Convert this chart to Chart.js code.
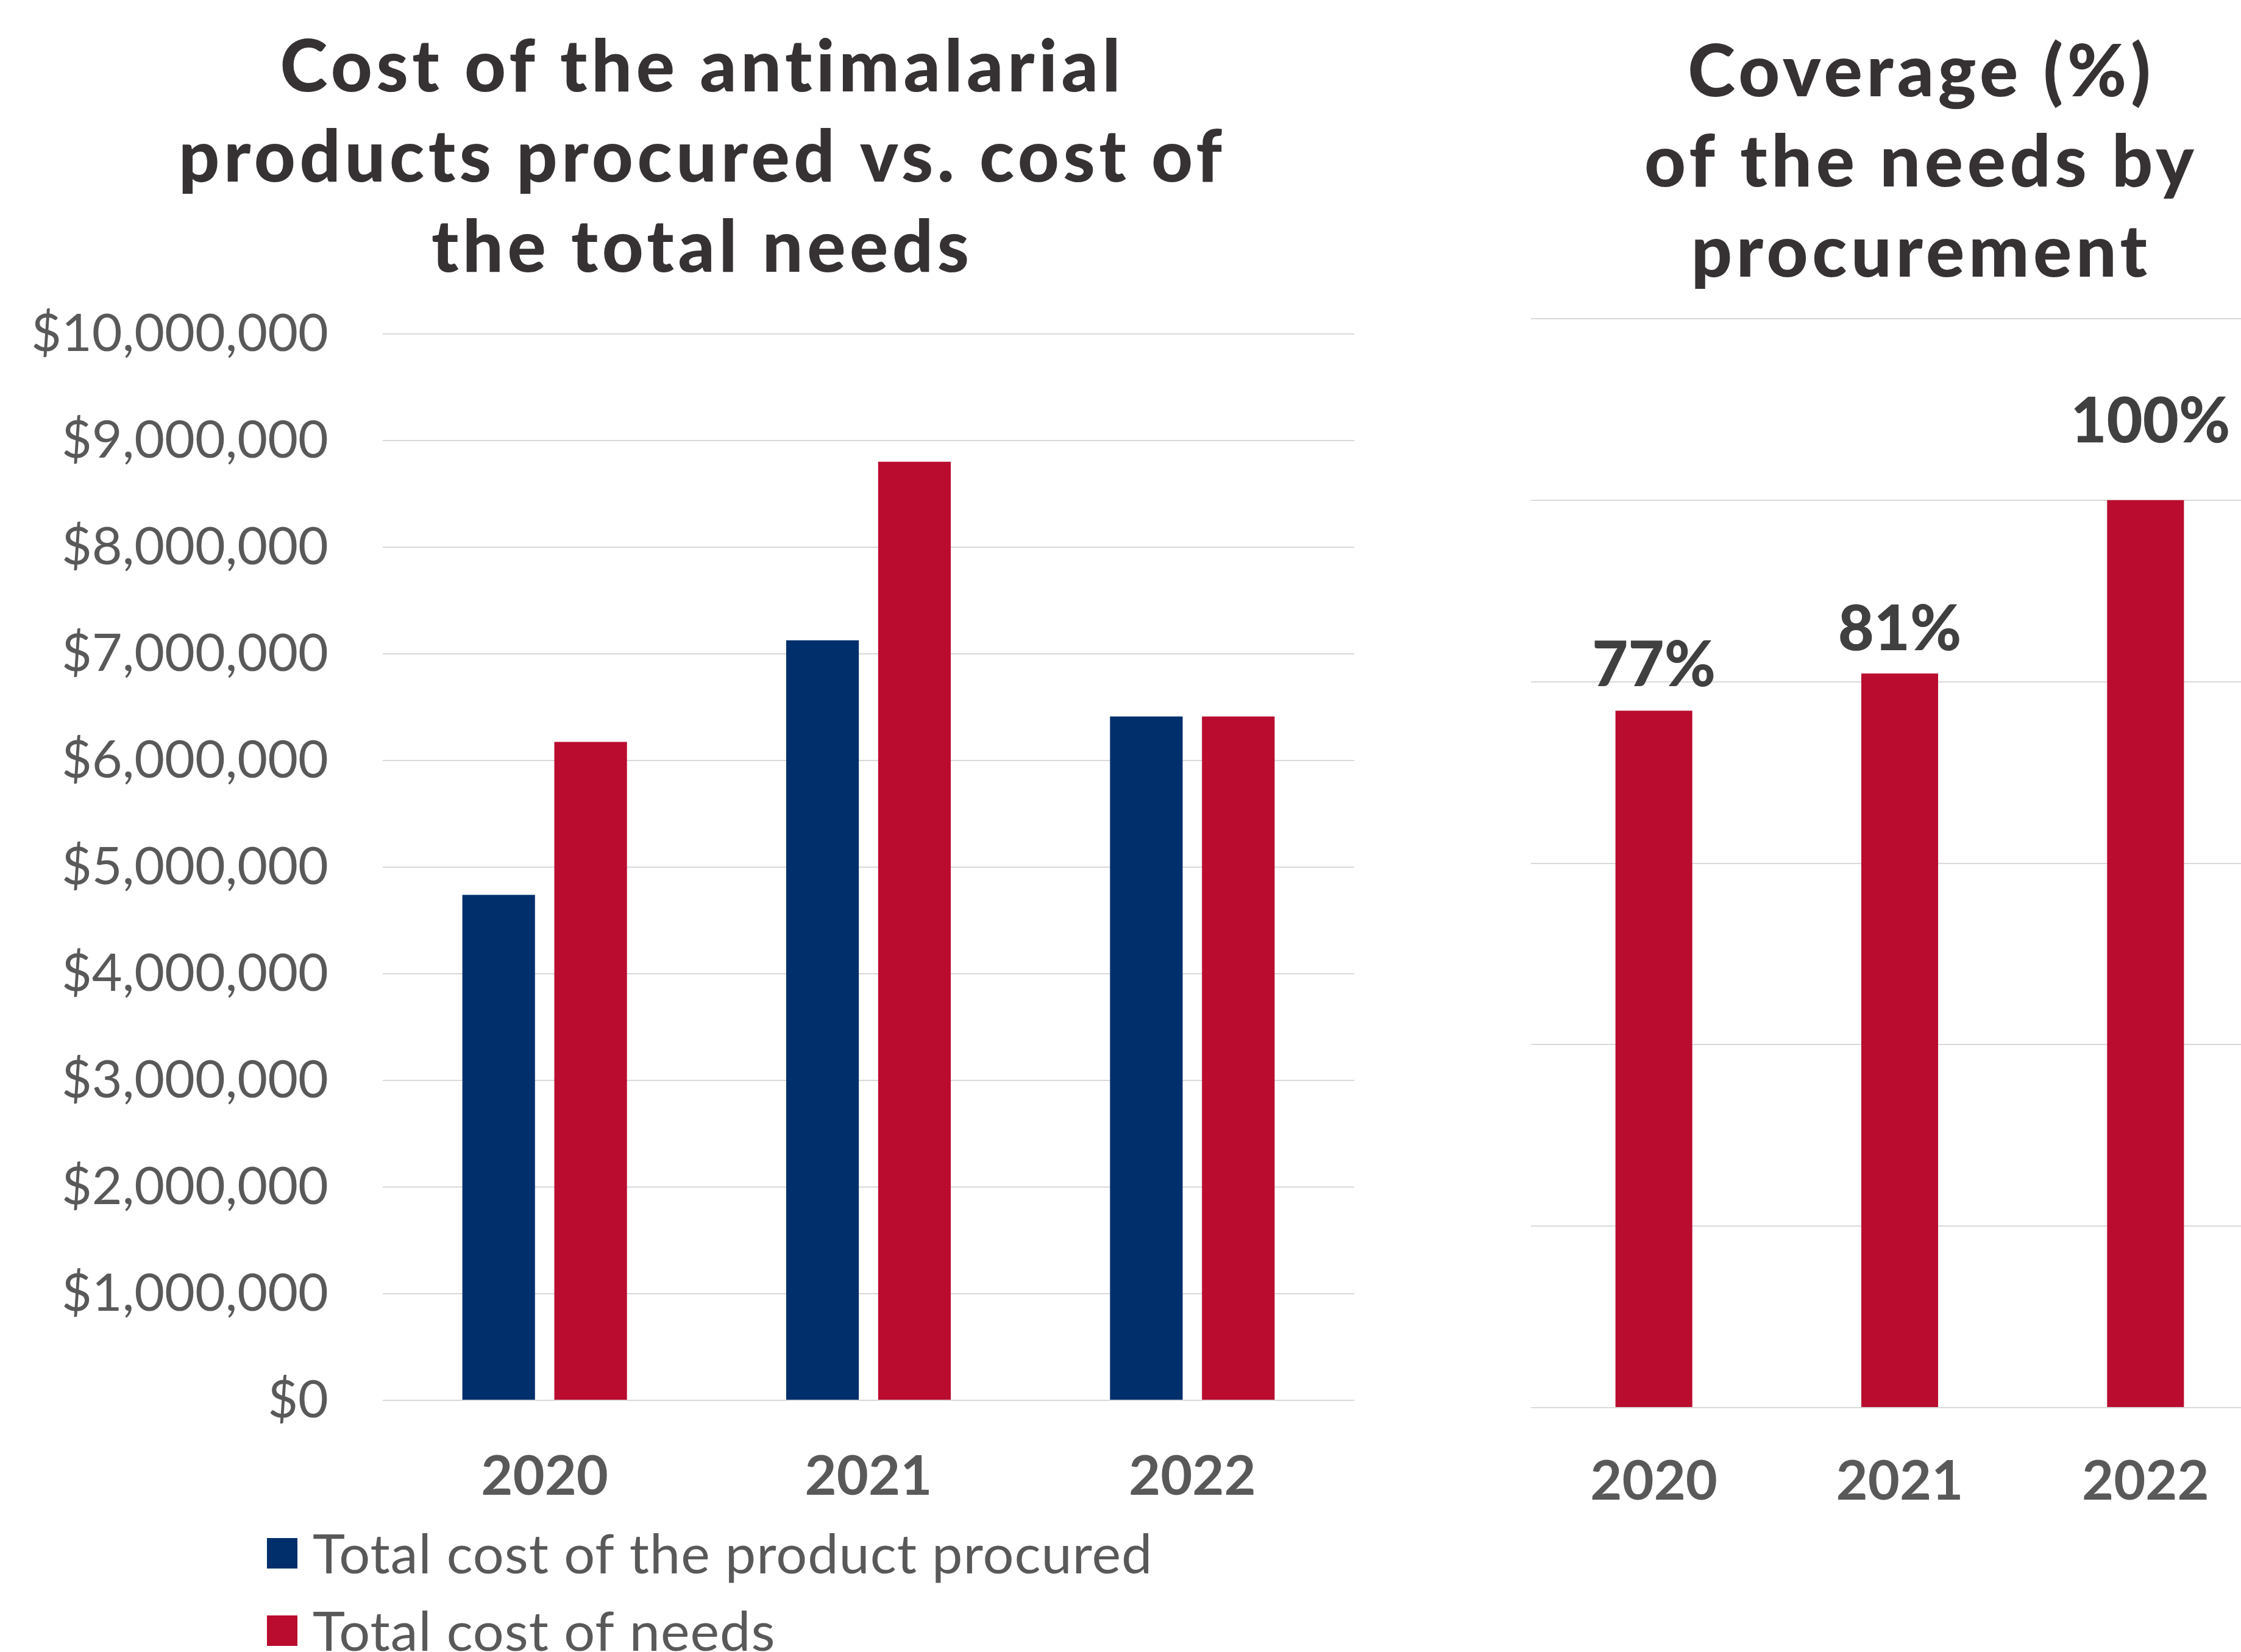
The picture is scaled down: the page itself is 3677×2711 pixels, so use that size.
<!DOCTYPE html>
<html>
    <head>
        <title>Antimalarial procurement</title>
        <script src="https://cdn.jsdelivr.net/npm/chart.js"></script>
        <style>
            html, body {
                margin: 0;
                padding: 0;
                width: 3677px;
                height: 2711px;
                overflow: hidden;
                background: #fff;
            }
            #costChart {
                position: absolute;
                left: 0;
                top: 0;
            }
            #coverageChart {
                position: absolute;
                left: 2400px;
                top: 0;
            }
        </style>
    </head>
    <body>
        <canvas id="costChart" width="2300" height="2711"></canvas>
        <canvas id="coverageChart" width="1498" height="2711"></canvas>

        <script>
            const years = ['2020', '2021', '2022'];
            const procuredCost = [4740000, 7127000, 6413000];
            const needsCost = [6174000, 8801000, 6413000];
            const coveragePct = [76.8, 80.9, 100];
            const costTicks = [0, 10000000, 1000000]; // min, max, step
            const coverageTicks = [0, 120, 20];

            const NAVY = '#002f6c';
            const RED = '#ba0c2f';
            const GRID = '#d9d9d9';
            const AXIS_TEXT = '#595959';
            const TITLE_TEXT = '#363233';
            const FONT = 'Lato';

            Chart.defaults.font.family = FONT;
            Chart.defaults.animation = false;

            // titles with a bit of tracking, closer to the original Gill Sans
            const spacedTitle = {
                id: 'spacedTitle',
                afterDraw(chart, args, opts) {
                    const ctx = chart.ctx;
                    ctx.save();
                    ctx.font = '900 118px ' + FONT;
                    ctx.fillStyle = TITLE_TEXT;
                    ctx.textAlign = 'left';
                    ctx.textBaseline = 'alphabetic';
                    ctx.letterSpacing = opts.spacing + 'px';
                    opts.lines.forEach((line, i) => {
                        const w = ctx.measureText(line).width - opts.spacing;
                        ctx.fillText(line, opts.cx - w / 2, opts.top + i * 148);
                    });
                    ctx.restore();
                }
            };

            // legend drawn as a left-aligned block, one item per row
            const stackedLegend = {
                id: 'stackedLegend',
                afterDraw(chart) {
                    const ctx = chart.ctx;
                    const base = chart.chartArea.bottom;
                    const rows = [251, 378];
                    ctx.save();
                    ctx.font = '90px ' + FONT;
                    ctx.letterSpacing = '1px';
                    ctx.textBaseline = 'middle';
                    ctx.textAlign = 'left';
                    chart.data.datasets.forEach((ds, i) => {
                        const y = base + rows[i];
                        ctx.fillStyle = ds.backgroundColor;
                        ctx.fillRect(438, y - 25, 50, 50);
                        ctx.fillStyle = AXIS_TEXT;
                        ctx.fillText(ds.label, 513, y + 4);
                    });
                    ctx.restore();
                }
            };

            // percentage labels above coverage bars
            const barLabels = {
                id: 'barLabels',
                afterDatasetsDraw(chart, args, opts) {
                    const ctx = chart.ctx;
                    const meta = chart.getDatasetMeta(0);
                    ctx.save();
                    ctx.font = '900 102px ' + FONT;
                    ctx.fillStyle = '#404040';
                    ctx.textAlign = 'center';
                    ctx.textBaseline = 'alphabetic';
                    meta.data.forEach((bar, i) => {
                        const v = chart.data.datasets[0].data[i];
                        ctx.fillText(Math.round(v) + '%', bar.x + (opts.shift[i] || 0), bar.y - opts.gap[i]);
                    });
                    ctx.restore();
                }
            };

            const yearFont = { family: FONT, size: 90, weight: 'bold' };

            new Chart(document.getElementById('costChart'), {
                type: 'bar',
                data: {
                    labels: years,
                    datasets: [
                        { label: 'Total cost of the product procured', data: procuredCost, backgroundColor: NAVY },
                        { label: 'Total cost of needs', data: needsCost, backgroundColor: RED }
                    ]
                },
                options: {
                    responsive: false,
                    layout: { padding: { top: 548, left: 0, right: 78, bottom: 239 } },
                    datasets: { bar: { categoryPercentage: 0.568, barPercentage: 0.79 } },
                    scales: {
                        x: {
                            grid: { display: false },
                            border: { display: false },
                            ticks: { font: yearFont, color: AXIS_TEXT, padding: 64 },
                            afterFit: (s) => { s.height = 174; }
                        },
                        y: {
                            min: costTicks[0],
                            max: costTicks[1],
                            grid: { color: GRID, lineWidth: 2, drawTicks: false },
                            border: { display: false },
                            ticks: {
                                stepSize: costTicks[2],
                                font: { family: FONT, size: 86 },
                                color: AXIS_TEXT,
                                padding: 89,
                                callback: (v) => '$' + v.toLocaleString('en-US')
                            },
                            afterFit: (s) => { s.width = 628; }
                        }
                    },
                    plugins: {
                        legend: { display: false },
                        tooltip: { enabled: false },
                        title: { display: false },
                        spacedTitle: {
                            lines: ['Cost of the antimalarial', 'products procured vs. cost of', 'the total needs'],
                            cx: 1149,
                            top: 150,
                            spacing: 6.6
                        }
                    }
                },
                plugins: [spacedTitle, stackedLegend]
            });

            new Chart(document.getElementById('coverageChart'), {
                type: 'bar',
                data: {
                    labels: years,
                    datasets: [
                        { label: 'Coverage', data: coveragePct, backgroundColor: RED }
                    ]
                },
                options: {
                    responsive: false,
                    layout: { padding: { top: 523, left: 112, right: 176, bottom: 227 } },
                    datasets: { bar: { categoryPercentage: 0.3473, barPercentage: 0.9 } },
                    scales: {
                        x: {
                            grid: { display: false },
                            border: { display: false },
                            ticks: { font: yearFont, color: AXIS_TEXT, padding: 60 },
                            afterFit: (s) => { s.height = 174; }
                        },
                        y: {
                            min: coverageTicks[0],
                            max: coverageTicks[1],
                            grid: { color: GRID, lineWidth: 2, drawTicks: false },
                            border: { display: false },
                            ticks: { stepSize: coverageTicks[2], display: false },
                            afterFit: (s) => { s.width = 0; }
                        }
                    },
                    plugins: {
                        legend: { display: false },
                        tooltip: { enabled: false },
                        title: { display: false },
                        spacedTitle: {
                            lines: ['Coverage (%)', 'of the needs by', 'procurement'],
                            cx: 749,
                            top: 158,
                            spacing: 6.6
                        },
                        barLabels: { gap: [40, 38, 95], shift: [0, 0, 8] }
                    }
                },
                plugins: [spacedTitle, barLabels]
            });
        </script>
    </body>
</html>
